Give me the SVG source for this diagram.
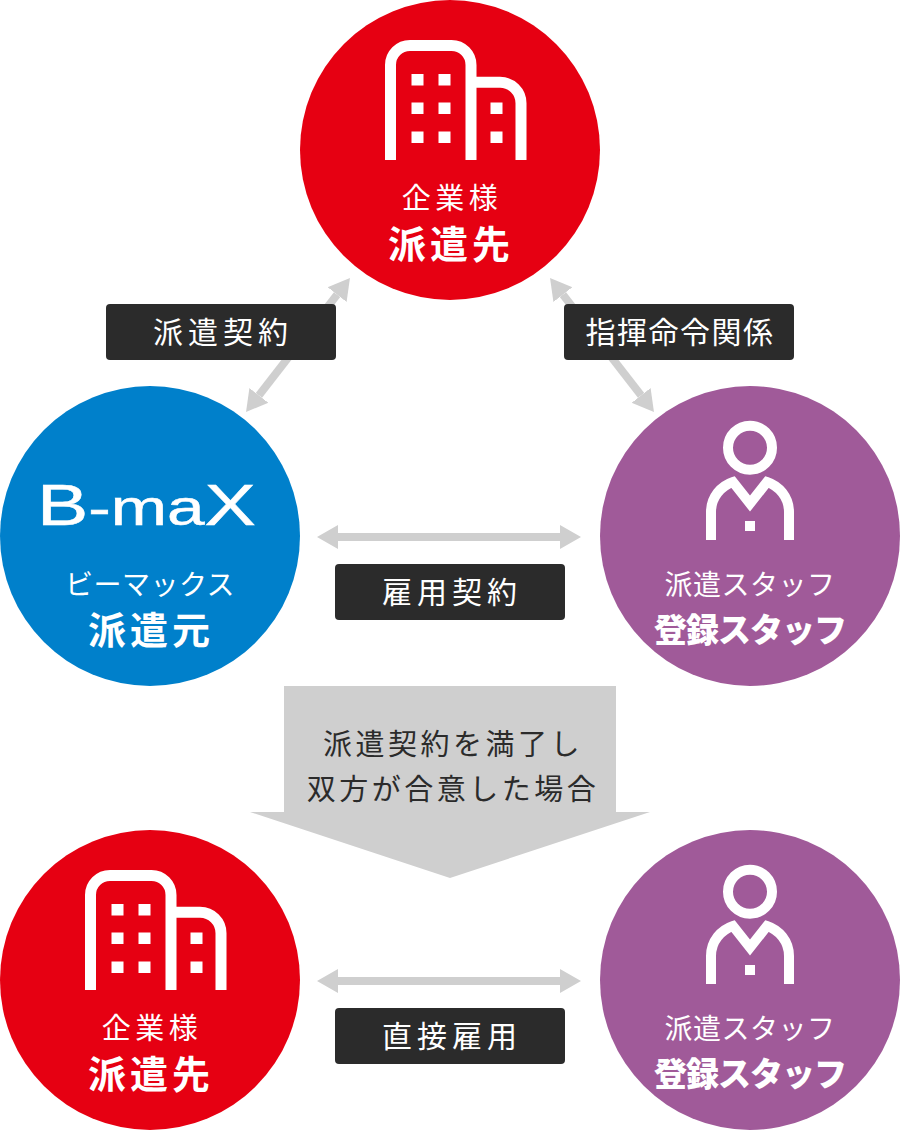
<svg xmlns="http://www.w3.org/2000/svg" width="900" height="1130" viewBox="0 0 900 1130">
<style>
text{font-family:"Noto Sans CJK JP","Noto Sans",sans-serif;text-anchor:middle}
.w{fill:#fff}
.sub{font-size:29px;letter-spacing:4.500px;font-weight:400}
.sub2{font-size:28px;letter-spacing:.5px;font-weight:400}
.main{font-size:38px;letter-spacing:4px;font-weight:700}
.staff{font-size:33px;letter-spacing:-1px;font-weight:900}
.lab{font-size:30px;letter-spacing:5px;font-weight:400;fill:#fff}
.note{font-size:29px;letter-spacing:3.500px;font-weight:400;fill:#2b2b2b}
.box{fill:#2b2b2b}
.arr{stroke:#cfcfcf;stroke-width:8;marker-start:url(#h);marker-end:url(#h)}
.ic{fill:none;stroke:#fff;stroke-width:11}
.ip{fill:none;stroke:#fff;stroke-width:10}
.logo{font-family:"Liberation Sans",sans-serif;font-size:57px;font-weight:400;text-anchor:start;stroke:#fff;stroke-width:.5}
</style>
<defs>
<marker id="h" markerUnits="userSpaceOnUse" markerWidth="22" markerHeight="26" refX="0" refY="12.5" orient="auto-start-reverse" viewBox="0 0 22 25"><path d="M0 .5L21 12.5L0 24.5Z" fill="#cfcfcf"/></marker>
<g id="building">
<path class="ic" d="M390.500 160V65a19.500 19.500 0 0 1 19.500-19.500H451.500a19.500 19.500 0 0 1 19.500 19.500V160"/>
<path class="ic" d="M476 82.300H500a21 21 0 0 1 21 21V160"/>
<path class="w" d="M411.500 74h12v11.500h-12zM438.500 74h12v11.500h-12zM411.500 102.500h12v11.500h-12zM438.500 102.500h12v11.500h-12zM490.500 102.500h12v11.500h-12zM411.500 131.500h12v11.500h-12zM438.500 131.500h12v11.500h-12zM490.500 131.500h12v11.500h-12z"/>
</g>
<g id="person">
<circle class="ip" cx="750" cy="447.700" r="22"/>
<path class="ip" d="M711 540V512C711 497 721 486 733 482L750 503.500L767 482C779 486 789 497 789 512V540"/>
<path class="w" d="M745 521h10v10h-10z"/>
</g>
</defs>
<g id="connectors">
<line class="arr" x1="258.900" y1="395.400" x2="337.100" y2="294.600"/>
<line class="arr" x1="641.100" y1="395.400" x2="562.900" y2="294.600"/>
<line class="arr" x1="338" y1="537" x2="560" y2="537"/>
<line class="arr" x1="338" y1="981" x2="560" y2="981"/>
</g>
<g id="client-top">
<circle cx="450" cy="150" r="150" fill="#e60012"/>
<use href="#building"/>
<text class="w sub" x="452" y="209">企業様</text>
<text class="w main" x="451" y="258">派遣先</text>
</g>
<g id="bmax">
<circle cx="150" cy="536" r="150" fill="#0080cb"/>
<text class="w logo" transform="translate(37 525) scale(1.35 1)">B<tspan font-size="50">-ma</tspan>X</text>
<text class="w sub2" x="150" y="595">ビーマックス</text>
<text class="w main" x="151" y="644">派遣元</text>
</g>
<g id="staff-top">
<circle cx="750" cy="536" r="150" fill="#a05a99"/>
<use href="#person"/>
<text class="w sub2" x="750" y="595">派遣スタッフ</text>
<text class="w staff" x="750" y="642">登録スタッフ</text>
</g>
<g id="label-haken">
<rect class="box" x="106" y="304" width="230" height="56" rx="4"/>
<text class="lab" x="223" y="343">派遣契約</text>
</g>
<g id="label-shiki">
<rect class="box" x="564" y="304" width="230" height="56" rx="4"/>
<text class="lab" x="680" y="343" style="letter-spacing:1.500px">指揮命令関係</text>
</g>
<g id="label-koyo">
<rect class="box" x="335" y="564" width="230" height="56" rx="4"/>
<text class="lab" x="452" y="603">雇用契約</text>
</g>
<g id="transition">
<path d="M284 686H616V812H650L450 878L250 812H284Z" fill="#cfcfcf"/>
<text class="note" x="453" y="755">派遣契約を満了し</text>
<text class="note" x="453" y="800">双方が合意した場合</text>
</g>
<g id="client-bottom">
<circle cx="150" cy="980" r="150" fill="#e60012"/>
<use href="#building" transform="translate(-300 830)"/>
<text class="w sub" x="152" y="1039">企業様</text>
<text class="w main" x="151" y="1088">派遣先</text>
</g>
<g id="staff-bottom">
<circle cx="750" cy="980" r="150" fill="#a05a99"/>
<use href="#person" transform="translate(0 444)"/>
<text class="w sub2" x="750" y="1039">派遣スタッフ</text>
<text class="w staff" x="750" y="1086">登録スタッフ</text>
</g>
<g id="label-direct">
<rect class="box" x="335" y="1008" width="230" height="56" rx="4"/>
<text class="lab" x="452" y="1047">直接雇用</text>
</g>
</svg>
